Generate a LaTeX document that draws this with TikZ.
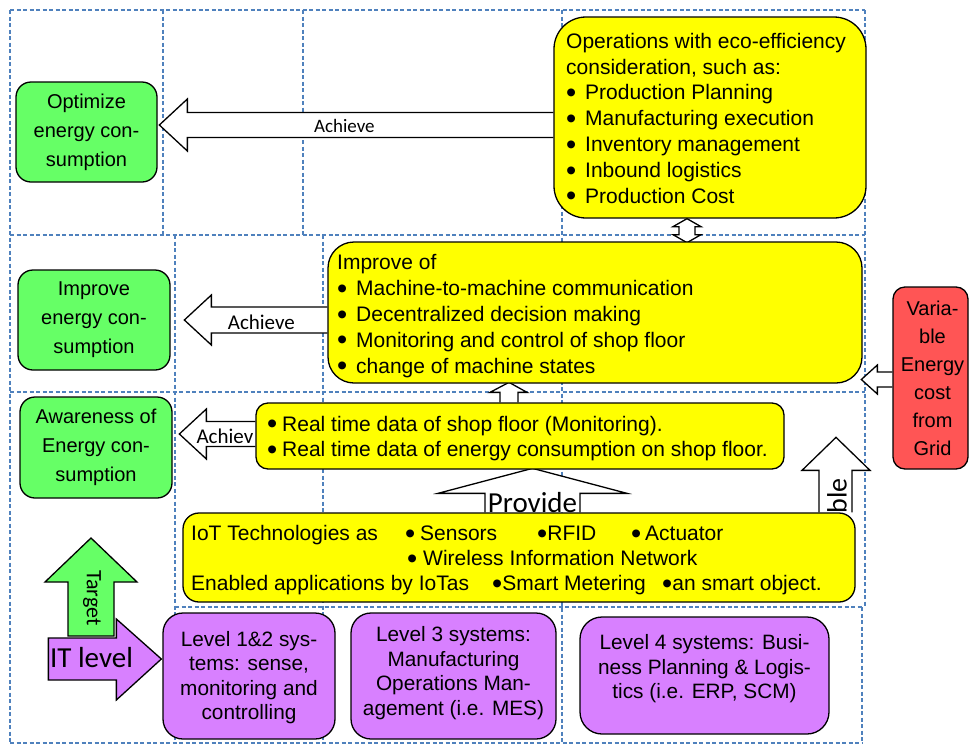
\documentclass[tikz,border=0pt]{standalone}
\usepackage{fontspec}
\setmainfont{Liberation Sans}
\newfontfamily\calfont{Carlito}
\usetikzlibrary{calc}
\pgfdeclarelayer{gridlayer}
\pgfdeclarelayer{arrowlayer}
\pgfsetlayers{gridlayer,arrowlayer,main}
\definecolor{gridblue}{RGB}{79,129,189}
\definecolor{boxgreen}{RGB}{102,255,102}
\definecolor{boxyellow}{RGB}{255,255,0}
\definecolor{boxpurple}{RGB}{216,128,255}
\definecolor{boxred}{RGB}{255,85,85}
\newcommand{\bigbul}{\raisebox{-0.13em}{\scalebox{1.38}{•}}}
\newcommand{\myitemA}{\makebox[19pt][l]{\bigbul}}
\newcommand{\myitemC}{\makebox[15pt][l]{\bigbul}}
\begin{document}
\begin{tikzpicture}[x=1pt,y=-1pt,
  gridline/.style={draw=gridblue, line width=1.1pt, dash pattern=on 4pt off 2.5pt},
  boxbase/.style={draw=black, line width=1.3pt, shape=rectangle, inner sep=0pt},
  gbox/.style={boxbase, fill=boxgreen, rounded corners=15pt},
  ybox/.style={boxbase, fill=boxyellow},
  pbox/.style={boxbase, fill=boxpurple, rounded corners=20pt},
  rbox/.style={boxbase, fill=boxred, rounded corners=12pt},
  gtxt/.style={inner sep=0pt, align=center, font=\fontsize{20}{29}\selectfont},
  ptxt/.style={inner sep=0pt, align=center, font=\fontsize{20.8}{24.5}\selectfont},
  rtxt/.style={inner sep=0pt, align=center, font=\fontsize{20}{28}\selectfont},
  ytxt/.style={inner sep=0pt, align=left, anchor=west, font=\fontsize{21}{25.8}\selectfont},
  itxt/.style={inner sep=0pt, anchor=base west, font=\fontsize{21}{25}\selectfont},
  barrow/.style={draw=black, line width=1.3pt, fill=white, line join=miter},
  lbl/.style={inner sep=0pt, font=\calfont\fontsize{21}{24}\selectfont}
]
\useasboundingbox (0,0) rectangle (970,745);

% ---------- boxes ----------
\node[gbox, minimum width=141pt, minimum height=100pt] (opt) at (86.5,132) {};
\node[gbox, minimum width=152pt, minimum height=100pt] (imp) at (94,320) {};
\node[gbox, minimum width=152pt, minimum height=101pt] (awa) at (96,447.5) {};
\node[ybox, rounded corners=32pt, minimum width=312pt, minimum height=201pt] (ops) at (710,117.5) {};
\node[ybox, rounded corners=26pt, minimum width=534pt, minimum height=141pt] (impof) at (595,312.5) {};
\node[ybox, rounded corners=12pt, minimum width=528pt, minimum height=66pt] (rt) at (520,436) {};
\node[ybox, rounded corners=16pt, minimum width=672pt, minimum height=89pt] (iot) at (519,557.5) {};
\node[pbox, minimum width=172pt, minimum height=126pt] (l12) at (249,676) {};
\node[pbox, minimum width=205pt, minimum height=126pt] (l3) at (453.5,676) {};
\node[pbox, rounded corners=22pt, minimum width=249pt, minimum height=117pt] (l4) at (704.5,675.5) {};
\node[rbox, minimum width=75pt, minimum height=182pt] (red) at (930.5,378) {};

% ---------- texts ----------
\node[gtxt] (optt) at ($(opt.center)+(0,0)$) {Optimize\\energy con-\\sumption};
\node[gtxt] (impt) at ($(imp.center)+(0,0)$) {Improve\\energy con-\\sumption};
\node[gtxt] (awat) at ($(awa.center)+(0,0)$) {Awareness of\\Energy con-\\sumption};
\node[rtxt] (redt) at ($(red.center)+(2,0.5)$) {Varia-\\ble\\Energy\\cost\\from\\Grid};

\node[ytxt] (opst) at (566,119.5) {Operations with eco-efficiency\\consideration, such as:\\\myitemA Production Planning\\\myitemA Manufacturing execution\\\myitemA Inventory management\\\myitemA Inbound logistics\\\myitemA Production Cost};
\node[ytxt] (impoft) at (337,316) {Improve of\\\myitemA Machine-to-machine communication\\\myitemA Decentralized decision making\\\myitemA Monitoring and control of shop floor\\\myitemA change of machine states};
\node[ytxt] (rtt) at (267,438.5) {\myitemC Real time data of shop floor (Monitoring).\\\myitemC Real time data of energy consumption on shop floor.};

\node[itxt] (iot1) at (191,540.5) {IoT Technologies as};
\node[itxt] (iot2) at (405,540.5) {\makebox[15pt][l]{\bigbul}Sensors};
\node[itxt] (iot3) at (537,540.5) {\bigbul RFID};
\node[itxt] (iot4) at (631,540.5) {\makebox[14pt][l]{\bigbul}Actuator};
\node[itxt] (iot5) at (407,565.5) {\makebox[16pt][l]{\bigbul}Wireless Information Network};
\node[itxt] (iot6) at (191,590.5) {Enabled applications by IoTas};
\node[itxt] (iot7) at (492,590.5) {\bigbul Smart Metering};
\node[itxt] (iot8) at (662,590.5) {\bigbul an smart object.};

\node[ptxt] (l12t) at ($(l12.center)+(0,1.5)$) {Level 1\&2 sys-\\tems: sense,\\monitoring and\\controlling};
\node[ptxt] (l3t) at ($(l3.center)+(0,-3)$) {Level 3 systems:\\Manufacturing\\Operations Man-\\agement (i.e. MES)};
\node[ptxt] (l4t) at ($(l4.center)+(0,-6.5)$) {Level 4 systems: Busi-\\ness Planning \& Logis-\\tics (i.e. ERP, SCM)};

% ---------- grid ----------
\begin{pgfonlayer}{gridlayer}
\draw[gridline] (10,10) -- (865,10);
\draw[gridline] (10,235) -- (865,235);
\draw[gridline] (10,392) -- (865,392);
\draw[gridline] (175,607) -- (862,607);
\draw[gridline] (10,743) -- (862,743);
\draw[gridline] (10,10) -- (10,743);
\draw[gridline] (163,10) -- (163,235);
\draw[gridline] (303,10) -- (303,235);
\draw[gridline] (175,235) -- (175,743);
\draw[gridline] (323,235) -- (323,743);
\draw[gridline] (562,10) -- (562,743);
\draw[gridline] (865,10) -- (865,607);
\draw[gridline] (862,607) -- (862,743);
\end{pgfonlayer}

% ---------- block arrows ----------
\begin{pgfonlayer}{arrowlayer}
% Achieve (ops -> opt)
\draw[barrow] ($(ops.west)+(0,-5)$) -- ++(-366,0) -- ++(0,-13.5) -- ++(-28,26) -- ++(28,26) -- ++(0,-13.5) -- ++(366,0);
\node[lbl, font=\calfont\fontsize{19}{22}\selectfont] (a1l) at ($(ops.west)+(-209,8)$) {Achieve};
% Achieve (impof -> imp)
\draw[barrow] ($(impof.west)+(0,-5.5)$) -- ++(-116,0) -- ++(0,-12) -- ++(-27,25) -- ++(27,25) -- ++(0,-12) -- ++(116,0);
\node[lbl] (a2l) at ($(impof.west)+(-66,9.5)$) {Achieve};
% Achiev (rt -> awa)
\draw[barrow] ($(rt.west)+(0,-14.5)$) -- ++(-49,0) -- ++(0,-12.5) -- ++(-27,25) -- ++(27,25) -- ++(0,-12.5) -- ++(49,0);
\node[lbl, anchor=west] (a3l) at ($(rt.west)+(-59,0.5)$) {Achiev};
% double arrow ops <-> impof
\draw[barrow] ($(ops.south)+(-23,0)$) -- ++(14,8) -- ++(-6,0) -- ++(0,8) -- ++(6,0) -- ++(-14,8) -- ++(-14,-8) -- ++(6,0) -- ++(0,-8) -- ++(-6,0) -- cycle;
% small up arrow rt -> impof
\draw[barrow] ($(rt.north)+(-20,0)$) -- ++(0,-10) -- ++(-10,0) -- ++(19,-10) -- ++(18,10) -- ++(-9,0) -- ++(0,10);
% Provide
\draw[barrow] ($(iot.north)+(-34,0)$) -- ++(0,-19) -- ++(-47,0) -- ++(94.5,-25) -- ++(94.5,25) -- ++(-47,0) -- ++(0,19);
\node[lbl, font=\calfont\fontsize{29}{31}\selectfont] (provl) at ($(iot.north)+(13.5,-10)$) {Provide};
% Enable
\draw[barrow] ($(iot.north)+(300,0)$) -- ++(0,-42) -- ++(-17,0) -- ++(34,-33) -- ++(34,33) -- ++(-18,0) -- ++(0,42);
\node[lbl, font=\calfont\fontsize{28}{30}\selectfont, rotate=90, anchor=west] (enl) at ($(iot.north)+(318,1)$) {ble};
% red -> impof
\draw[barrow] ($(red.west)+(0,-6)$) -- ++(-15,0) -- ++(0,-7) -- ++(-16,14.5) -- ++(16,14.5) -- ++(0,-7) -- ++(15,0);
% Target
\draw[barrow, fill=boxgreen] (68,636) -- (68,582) -- (45,582) -- (91,538) -- (137,582) -- (114,582) -- (114,636) -- cycle;
\node[lbl, font=\calfont\fontsize{22}{24}\selectfont, rotate=-90] (targl) at (92,598) {Target};
% IT level
\draw[barrow, fill=boxpurple] ($(l12.west)+(-1,-17)$) -- ++(-45,-40) -- ++(0,19) -- ++(-68,0) -- ++(0,42) -- ++(68,0) -- ++(0,20) -- cycle;
\node[lbl, font=\calfont\fontsize{29}{31}\selectfont] (itl) at (91.5,658) {IT level};
\end{pgfonlayer}
\end{tikzpicture}
\end{document}
